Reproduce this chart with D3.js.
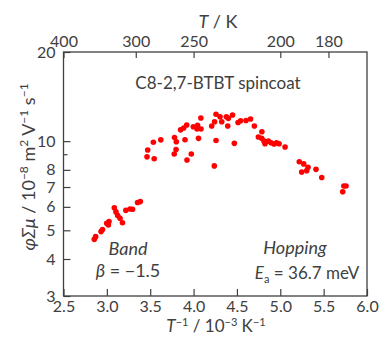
<!DOCTYPE html>
<html>
<head>
<meta charset="utf-8">
<script src="https://cdn.jsdelivr.net/npm/d3@7"></script>
<style>
  body { margin: 0; background: #fff; }
  svg text { font-family: Lato, "Open Sans", sans-serif; fill: #404040; }
</style>
</head>
<body>
<svg width="382" height="337"></svg>
<script>
// inverse temperature (1e-3 / K)
var invT = [
  2.855, 2.871, 2.933, 2.950, 2.998, 3.025, 3.017, 3.086, 3.105, 3.125,
  3.152, 3.180, 3.219, 3.267, 3.296, 3.354, 3.386,
  3.463, 3.471, 3.536, 3.546, 3.622, 3.780, 3.801, 3.798, 3.777,
  3.901, 3.974, 3.924, 3.850, 3.886, 3.921, 3.997, 4.040, 4.057,
  4.046, 4.084, 4.086, 4.209, 4.242, 4.259, 4.305, 4.325, 4.378,
  4.401, 4.449, 4.394, 4.259, 4.470, 4.239, 4.513, 4.542, 4.605,
  4.657, 4.701, 4.788, 4.747, 4.786, 4.813, 4.824, 4.862, 4.893,
  4.928, 4.957, 4.986, 5.055, 5.219, 5.270, 5.320, 5.247, 5.305,
  5.412, 5.478, 5.733, 5.758, 5.720
];
// phi*sum(mu) (1e-8 m2 / V s)
var mobility = [
  4.66, 4.76, 4.95, 5.03, 5.28, 5.35, 5.21, 5.96, 5.77, 5.61,
  5.49, 5.30, 5.84, 5.90, 5.89, 6.21, 6.25,
  8.85, 9.33, 9.91, 8.72, 10.10, 10.29, 9.95, 9.37, 9.05,
  10.11, 9.05, 8.64, 10.92, 11.08, 11.34, 11.19, 10.99, 10.22,
  11.31, 11.97, 10.99, 11.25, 11.63, 12.33, 12.09, 11.63, 12.09,
  11.94, 12.26, 11.25, 10.05, 9.83, 8.25, 11.56, 11.72, 11.74,
  11.88, 11.25, 10.76, 10.33, 10.22, 10.00, 9.80, 10.00, 9.87,
  9.78, 9.87, 9.80, 9.55, 8.52, 8.38, 8.16, 7.86, 7.95,
  8.03, 7.54, 7.06, 7.06, 6.75
];

var xTicks = [2.5, 3.0, 3.5, 4.0, 4.5, 5.0, 5.5, 6.0];
var yTicks = [3, 4, 5, 6, 7, 8, 10, 20];
var yMinor = [9];
var tTicks = [400, 300, 250, 200, 180];

var svg = d3.select('svg'),
    pLeft = 63.5, pRight = 367, pTop = 52, pBottom = 296,
    ink = '#404040';

var x = d3.scaleLinear().domain([2.5, 6.0]).range([pLeft, pRight]);
var y = d3.scaleLog().domain([3, 20]).range([pBottom, pTop]);

var data = invT.map(function (v, i) { return { x: v, y: mobility[i] }; });

function styleAxis(g) {
    g.select('.domain').remove();
    g.selectAll('line').attr('stroke', ink).attr('stroke-width', 1.2);
    g.selectAll('text').attr('font-size', 16).attr('fill', ink)
        .attr('font-family', 'Lato, sans-serif');
}

// bottom axis, ticks pointing inward
svg.append('g').attr('transform', 'translate(0,' + pBottom + ')')
    .call(d3.axisBottom(x).tickValues(xTicks).tickSizeInner(-7).tickSizeOuter(0)
      .tickFormat(d3.format('.1f')).tickPadding(5))
    .call(styleAxis);

// top axis: T in K
svg.append('g').attr('transform', 'translate(0,' + pTop + ')')
    .call(d3.axisTop(x).tickValues(tTicks.map(function (t) { return 1000 / t; }))
      .tickSizeInner(-6).tickSizeOuter(0)
      .tickFormat(function (d, i) { return tTicks[i]; }).tickPadding(5))
    .call(styleAxis);

// left axis (log)
svg.append('g').attr('transform', 'translate(' + pLeft + ',0)')
    .call(d3.axisLeft(y).tickValues(yTicks).tickSizeInner(-7).tickSizeOuter(0)
      .tickFormat(d3.format('d')).tickPadding(8))
    .call(styleAxis);

svg.append('g').selectAll('line').data(yMinor).enter().append('line')
    .attr('x1', pLeft).attr('x2', pLeft + 4)
    .attr('y1', function (d) { return y(d); }).attr('y2', function (d) { return y(d); })
    .attr('stroke', ink).attr('stroke-width', 1.2);

// frame
svg.append('rect')
    .attr('x', pLeft).attr('y', pTop)
    .attr('width', pRight - pLeft).attr('height', pBottom - pTop)
    .attr('fill', 'none').attr('stroke', ink).attr('stroke-width', 1.3);

// points
svg.append('g').selectAll('circle').data(data).enter().append('circle')
    .attr('cx', function (d) { return x(d.x); })
    .attr('cy', function (d) { return y(d.y); })
    .attr('r', 2.8)
    .attr('fill', '#ff0000');

// titles
var tt = svg.append('text').attr('x', 218).attr('y', 28).attr('text-anchor', 'middle')
    .attr('font-size', 18);
tt.append('tspan').attr('font-style', 'italic').text('T');
tt.append('tspan').text(' / K');

var bt = svg.append('text').attr('x', 216).attr('y', 332).attr('text-anchor', 'middle')
    .attr('font-size', 17);
bt.append('tspan').attr('font-style', 'italic').text('T');
bt.append('tspan').attr('font-size', 11).attr('dy', -6).text('−1');
bt.append('tspan').attr('dy', 6).text(' / 10');
bt.append('tspan').attr('font-size', 11).attr('dy', -6).text('−3');
bt.append('tspan').attr('dy', 6).text(' K');
bt.append('tspan').attr('font-size', 11).attr('dy', -6).text('−1');

var lt = svg.append('text')
    .attr('transform', 'translate(35,167) rotate(-90)')
    .attr('text-anchor', 'middle').attr('font-size', 18);
lt.append('tspan').attr('font-style', 'italic').text('φΣμ');
lt.append('tspan').text(' / 10');
lt.append('tspan').attr('font-size', 12).attr('dy', -7).text('−8');
lt.append('tspan').attr('dy', 7).text(' m');
lt.append('tspan').attr('font-size', 12).attr('dy', -7).text('2');
lt.append('tspan').attr('dy', 7).text(' V');
lt.append('tspan').attr('font-size', 12).attr('dy', -7).text('−1');
lt.append('tspan').attr('dy', 7).text(' s');
lt.append('tspan').attr('font-size', 12).attr('dy', -7).text('−1');

svg.append('text').attr('x', 218).attr('y', 89).attr('text-anchor', 'middle')
    .attr('font-size', 17).attr('fill', '#222').text('C8-2,7-BTBT spincoat');

// annotations
svg.append('text').attr('x', 128).attr('y', 255).attr('text-anchor', 'middle')
    .attr('font-size', 18).attr('font-style', 'italic').text('Band');
var beta = svg.append('text').attr('x', 128).attr('y', 277).attr('text-anchor', 'middle')
    .attr('font-size', 18);
beta.append('tspan').attr('font-style', 'italic').text('β');
beta.append('tspan').text(' = −1.5');

svg.append('text').attr('x', 295).attr('y', 254).attr('text-anchor', 'middle')
    .attr('font-size', 18).attr('font-style', 'italic').text('Hopping');
var ea = svg.append('text').attr('x', 307).attr('y', 279).attr('text-anchor', 'middle')
    .attr('font-size', 17);
ea.append('tspan').attr('font-style', 'italic').text('E');
ea.append('tspan').attr('font-size', 11).attr('dy', 4).text('a');
ea.append('tspan').attr('dy', -4).text(' = 36.7 meV');
</script>
</body>
</html>
